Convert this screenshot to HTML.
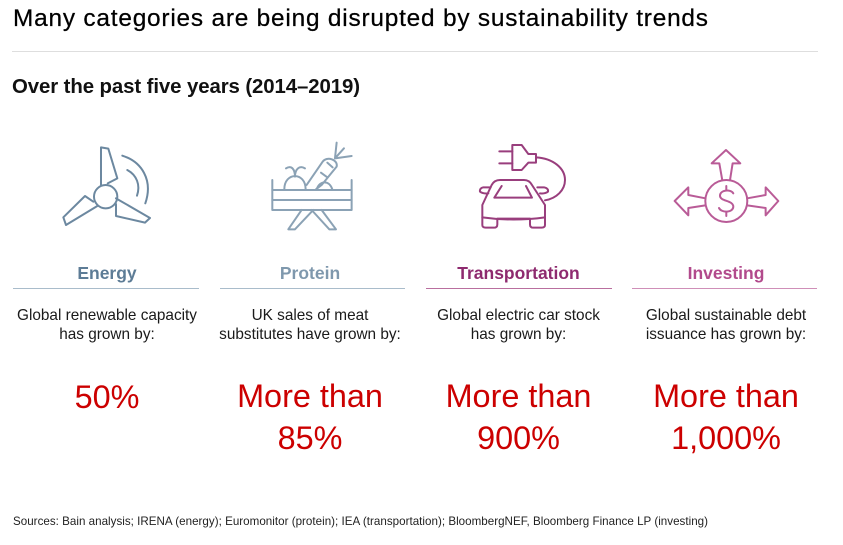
<!DOCTYPE html>
<html lang="en">
<head>
<meta charset="utf-8">
<title>Many categories are being disrupted by sustainability trends</title>
<style>
html,body{margin:0;padding:0;background:#fff;width:843px;height:545px;overflow:hidden}
svg{display:block}
text{font-family:"Liberation Sans",sans-serif}
.desc{font-size:15.35px;fill:#1a1a1a;text-anchor:middle}
.head{font-size:17.5px;font-weight:bold;text-anchor:middle}
.big{font-size:32.4px;fill:#cc0000;text-anchor:middle}
.ico{fill:none;stroke-width:6;stroke-linejoin:round;stroke-linecap:round;opacity:.9}
</style>
</head>
<body>
<svg width="843" height="545" viewBox="0 0 843 545">
<rect width="843" height="545" fill="#fff"/>
<text x="13" y="26" font-size="24.4" fill="#000" stroke="#000" stroke-width="0.25" textLength="695" lengthAdjust="spacing">Many categories are being disrupted by sustainability trends</text>
<rect x="12" y="51" width="806" height="1" fill="#dedede"/>
<text x="12" y="93" font-size="20.4" font-weight="bold" fill="#111" textLength="348" lengthAdjust="spacing">Over the past five years (2014–2019)</text>

<g transform="translate(40,130) scale(0.3333)" class="ico" stroke="#5d7c96">
<circle cx="197" cy="200" r="35"/>
<path d="M183,165 L183,52 L205,56 L232,145 L203,160"/>
<path d="M172,228 L78,285 L70,262 L135,198 L160,215"/>
<path d="M228,205 L330,264 L315,278 L228,258 L228,222"/>
<path d="M247,77 C305,95 340,150 316,220"/>
<path d="M262,120 C290,135 302,165 291,197"/>
</g>

<g transform="translate(40,130) scale(0.3333)" class="ico" stroke="#7f98ad">
<path d="M697,150 L697,240 L935,240 L935,150"/>
<path d="M697,180 L935,180 M697,210 L935,210"/>
<path d="M785,240 L745,298 L765,298 L820,240"/>
<path d="M815,240 L868,298 L888,298 L845,240"/>
<path d="M733,178 C733,125 797,125 797,178"/>
<path d="M765,140 C765,118 755,105 738,115 M765,140 C765,118 778,105 795,115"/>
<path d="M830,178 C840,150 868,150 877,178"/>
<path d="M800,165 L848,95 C860,78 895,88 890,110 L845,165 L828,178"/>
<path d="M843,128 L862,142 M862,98 L878,112"/>
<path d="M885,85 L890,38 M885,85 L912,55 M885,85 L935,78"/>
</g>

<g transform="translate(450,130) scale(0.3333)" class="ico" stroke="#8e2a6f">
<path d="M148,64 L187,64 M148,100 L187,100"/>
<path d="M187,45 L215,45 L235,72 L258,72 L258,98 L235,98 L215,120 L187,120 Z"/>
<path d="M258,82 C310,85 345,115 345,150 C345,180 320,205 285,211"/>
<path d="M97,265 L97,225 L125,165 Q133,150 150,150 L222,150 Q238,150 246,165 L285,225 L285,285 Q285,293 275,293 L250,293 Q240,293 240,283 L240,266 L142,266 L142,283 Q142,293 132,293 L107,293 Q97,293 97,285 Z"/>
<path d="M97,262 Q190,275 285,262"/>
<path d="M155,168 L133,203 L246,203 L228,168"/>
<path d="M122,172 L100,172 Q88,175 90,185 Q98,192 115,190"/>
<path d="M262,172 L282,172 Q296,175 294,185 Q286,192 270,190"/>
</g>

<g transform="translate(450,130) scale(0.3333)" class="ico" stroke="#b24a8c">
<circle cx="829" cy="213" r="63"/>
<path d="M817,151 L808,100 L785,100 L828,60 L871,100 L848,100 L840,151"/>
<path d="M766,205 L715,195 L715,172 L674,213 L715,256 L715,234 L766,226"/>
<path d="M892,205 L947,195 L947,172 L985,213 L947,256 L947,234 L892,226"/>
<path d="M850,190 C842,176 810,180 810,197 C810,215 850,210 850,230 C850,248 815,250 807,234"/>
<path d="M829,168 L829,180 M829,246 L829,258"/>
</g>

<text x="107" y="279" class="head" fill="#5d7c96">Energy</text>
<text x="310" y="279" class="head" fill="#7f98ad">Protein</text>
<text x="518.5" y="279" class="head" fill="#8e2a6f">Transportation</text>
<text x="726" y="279" class="head" fill="#b24a8c">Investing</text>

<rect x="13" y="288" width="186" height="1" fill="#a9bccb"/>
<rect x="220" y="288" width="185" height="1" fill="#a9bccb"/>
<rect x="426" y="288" width="186" height="1" fill="#b96f9f"/>
<rect x="632" y="288" width="185" height="1" fill="#cf8fb8"/>

<g>
<text x="107" y="320" class="desc">Global renewable capacity</text>
<text x="107" y="339" class="desc">has grown by:</text>
</g>
<g>
<text x="310" y="320" class="desc">UK sales of meat</text>
<text x="310" y="339" class="desc">substitutes have grown by:</text>
</g>
<g>
<text x="518.5" y="320" class="desc">Global electric car stock</text>
<text x="518.5" y="339" class="desc">has grown by:</text>
</g>
<g>
<text x="726" y="320" class="desc">Global sustainable debt</text>
<text x="726" y="339" class="desc">issuance has grown by:</text>
</g>

<text x="107" y="408" class="big">50%</text>
<g>
<text x="310" y="407" class="big">More than</text>
<text x="310" y="449" class="big">85%</text>
</g>
<g>
<text x="518.5" y="407" class="big">More than</text>
<text x="518.5" y="449" class="big">900%</text>
</g>
<g>
<text x="726" y="407" class="big">More than</text>
<text x="726" y="449" class="big">1,000%</text>
</g>

<text x="13" y="525" font-size="11.6" fill="#222" textLength="695" lengthAdjust="spacing">Sources: Bain analysis; IRENA (energy); Euromonitor (protein); IEA (transportation); BloombergNEF, Bloomberg Finance LP (investing)</text>
</svg>
</body>
</html>
